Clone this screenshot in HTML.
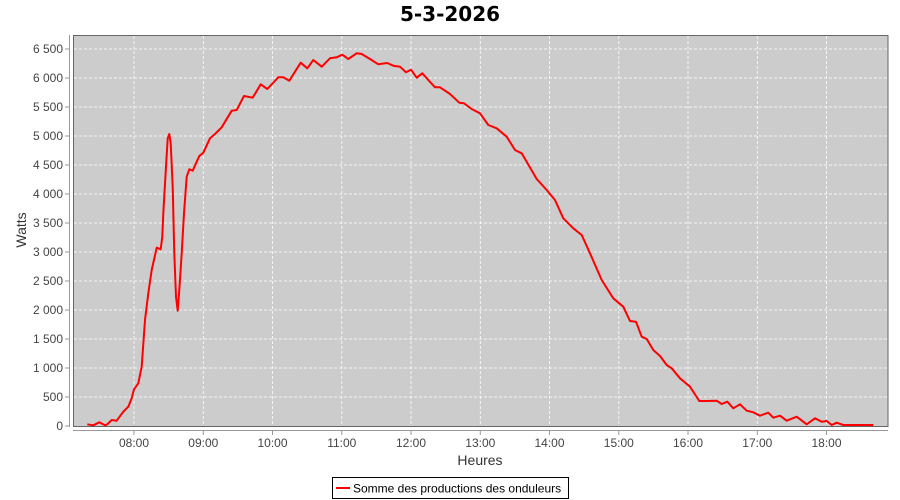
<!DOCTYPE html>
<html><head><meta charset="utf-8"><style>
body{margin:0;background:#fff;}
svg{display:block;font-family:"Liberation Sans",sans-serif;}
</style></head><body>
<svg width="900" height="500" xmlns="http://www.w3.org/2000/svg">
<text x="450" y="21" text-anchor="middle" font-size="20" font-weight="bold" fill="#000" font-family="DejaVu Sans, sans-serif">5-3-2026</text>
<rect x="73.5" y="35.5" width="814.5" height="391" fill="#cccccc" stroke="#666" stroke-width="1"/>
<g stroke="#fff" stroke-width="0.8" stroke-dasharray="3,2" fill="none">
<line x1="74" x2="888" y1="397" y2="397"/><line x1="74" x2="888" y1="368" y2="368"/>
<line x1="74" x2="888" y1="339" y2="339"/><line x1="74" x2="888" y1="310" y2="310"/>
<line x1="74" x2="888" y1="281" y2="281"/><line x1="74" x2="888" y1="252" y2="252"/>
<line x1="74" x2="888" y1="223" y2="223"/><line x1="74" x2="888" y1="194" y2="194"/>
<line x1="74" x2="888" y1="165" y2="165"/><line x1="74" x2="888" y1="136" y2="136"/>
<line x1="74" x2="888" y1="107" y2="107"/><line x1="74" x2="888" y1="78" y2="78"/>
<line x1="74" x2="888" y1="49" y2="49"/>
<line y1="36" y2="426" x1="134" x2="134"/><line y1="36" y2="426" x1="203.3" x2="203.3"/>
<line y1="36" y2="426" x1="272.5" x2="272.5"/><line y1="36" y2="426" x1="341.8" x2="341.8"/>
<line y1="36" y2="426" x1="411" x2="411"/><line y1="36" y2="426" x1="480.3" x2="480.3"/>
<line y1="36" y2="426" x1="549.5" x2="549.5"/><line y1="36" y2="426" x1="618.8" x2="618.8"/>
<line y1="36" y2="426" x1="688" x2="688"/><line y1="36" y2="426" x1="757.3" x2="757.3"/>
<line y1="36" y2="426" x1="826.5" x2="826.5"/>
</g>
<g stroke="#999" stroke-width="1">
<line x1="69.5" y1="35" x2="69.5" y2="427"/>
<line x1="73" y1="430.5" x2="888" y2="430.5"/>
<line x1="65" x2="69" y1="426" y2="426"/><line x1="65" x2="69" y1="397" y2="397"/><line x1="65" x2="69" y1="368" y2="368"/><line x1="65" x2="69" y1="339" y2="339"/><line x1="65" x2="69" y1="310" y2="310"/><line x1="65" x2="69" y1="281" y2="281"/><line x1="65" x2="69" y1="252" y2="252"/><line x1="65" x2="69" y1="223" y2="223"/><line x1="65" x2="69" y1="194" y2="194"/><line x1="65" x2="69" y1="165" y2="165"/><line x1="65" x2="69" y1="136" y2="136"/><line x1="65" x2="69" y1="107" y2="107"/><line x1="65" x2="69" y1="78" y2="78"/><line x1="65" x2="69" y1="49" y2="49"/>
<line y1="431" y2="435" x1="134" x2="134"/><line y1="431" y2="435" x1="203.3" x2="203.3"/><line y1="431" y2="435" x1="272.5" x2="272.5"/><line y1="431" y2="435" x1="341.8" x2="341.8"/><line y1="431" y2="435" x1="411" x2="411"/><line y1="431" y2="435" x1="480.3" x2="480.3"/><line y1="431" y2="435" x1="549.5" x2="549.5"/><line y1="431" y2="435" x1="618.8" x2="618.8"/><line y1="431" y2="435" x1="688" x2="688"/><line y1="431" y2="435" x1="757.3" x2="757.3"/><line y1="431" y2="435" x1="826.5" x2="826.5"/>
</g>
<g font-size="12" fill="#444" text-anchor="end">
<text x="63" y="430">0</text><text x="63" y="401">500</text><text x="63" y="372">1 000</text><text x="63" y="343">1 500</text><text x="63" y="314">2 000</text><text x="63" y="285">2 500</text><text x="63" y="256">3 000</text><text x="63" y="227">3 500</text><text x="63" y="198">4 000</text><text x="63" y="169">4 500</text><text x="63" y="140">5 000</text><text x="63" y="111">5 500</text><text x="63" y="82">6 000</text><text x="63" y="53">6 500</text>
</g>
<g font-size="12" fill="#444" text-anchor="middle">
<text x="134" y="447">08:00</text><text x="203.3" y="447">09:00</text><text x="272.5" y="447">10:00</text><text x="341.8" y="447">11:00</text><text x="411" y="447">12:00</text><text x="480.3" y="447">13:00</text><text x="549.5" y="447">14:00</text><text x="618.8" y="447">15:00</text><text x="688" y="447">16:00</text><text x="757.3" y="447">17:00</text><text x="826.5" y="447">18:00</text>
</g>
<text x="480" y="465" text-anchor="middle" font-size="14" fill="#333">Heures</text>
<text transform="translate(26,230) rotate(-90)" text-anchor="middle" font-size="14" fill="#333">Watts</text>
<polyline fill="none" stroke="#ff0000" stroke-width="2" stroke-linejoin="round" points="87.3,424.3 93.3,425.3 99.3,422.3 105,425.3 107.3,424.3 111.7,420 116.7,420.7 123.3,411.7 128.3,406.7 131.7,398.3 134,389.3 138.3,383.3 141.7,366.7 145,320 148.3,293.3 151.7,270 156.7,247.7 160.7,249.3 162.3,236.7 163.3,213.3 166,166.7 167.7,138.3 169.3,134 170.7,143.3 172.7,186.7 174.3,253.3 176,296.7 177.7,310.7 179.3,290 181.7,253.3 184,213.3 186.7,176.7 189.3,169.3 192.7,170.7 196,163.3 199.3,156 203.3,152.7 210,138.3 215,134 221.7,127.3 231.7,110.7 236.7,110 244,96 252.7,97.7 260.7,84.3 267.3,89 278.3,77.3 283.3,77.3 289.3,80.7 295,71.7 300.7,62.7 307.3,68.3 313.3,60 321.7,66.7 330,58.3 336.7,57.3 342.3,54.7 348.3,59 356.7,53.3 361.7,54 370,59 378.3,64.3 387.3,63 393.3,65.7 400,66.7 406,72.3 411,69.7 416.7,77.7 422.3,73.3 428.3,80 435,87.3 440,87.3 450,94 459.3,102.7 464,103.3 471.7,109 480,113.3 488.3,125 496.7,128.3 506.7,136.7 515,150 521.7,153.3 536.7,179 546.7,190 555,200 563.3,218.3 573.3,228.3 581.7,235 590,253.3 601.7,280 613.3,298.3 623.3,306.7 630,321 636,321.7 641.7,336.7 646.7,339 653.3,350 660,356 666.7,365 671.7,368.3 680,378.3 690,386.7 699.3,401 706.7,401 716.7,400.7 721.7,404 727.3,401.7 733.3,408.3 740,404.3 746.7,410.7 753.3,412.3 760,415.7 768.3,412.7 773.3,417.7 780,415.7 786.7,420.7 796.7,416.7 806.7,424.3 815,418.3 821.7,421.7 826.7,421 831.7,425 836.7,422.7 843.3,425 873.3,425"/>
<rect x="332.5" y="477.5" width="236" height="21" fill="#fff" stroke="#000" stroke-width="1"/>
<line x1="336" y1="488" x2="350" y2="488" stroke="#ff0000" stroke-width="2"/>
<text x="353" y="492.5" font-size="12" fill="#000">Somme des productions des onduleurs</text>
</svg>
</body></html>
